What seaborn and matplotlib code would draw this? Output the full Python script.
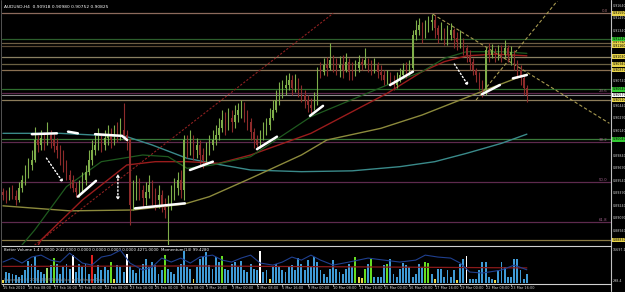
import numpy as np
import pandas as pd
import matplotlib
matplotlib.use("Agg")
import matplotlib.pyplot as plt
import seaborn as sns

sns.set_theme(style="dark")
plt.rcParams['font.family'] = ['DejaVu Sans']

# ---------------- data (AUDUSD H4) ----------------
first_open = 0.8941
close = [0.8937, 0.8933, 0.8941, 0.8936, 0.8931, 0.8945, 0.8955, 0.8965, 0.8973, 0.8979,
         0.9003, 0.8997, 0.9005, 0.9001, 0.9009, 0.9003, 0.8996, 0.8991, 0.8981, 0.8973,
         0.8961, 0.8955, 0.8945, 0.8941, 0.8943, 0.8955, 0.8965, 0.8979, 0.8991, 0.8997,
         0.9003, 0.8997, 0.9005, 0.9009, 0.9003, 0.9013, 0.9009, 0.9015, 0.9009, 0.9003,
         0.8925, 0.8937, 0.8949, 0.8943, 0.8933, 0.8941, 0.8949, 0.8937, 0.8931, 0.8937,
         0.8925, 0.8919, 0.8931, 0.8937, 0.8945, 0.8955, 0.8943, 0.9003, 0.8993, 0.9003,
         0.8991, 0.8997, 0.8985, 0.8979, 0.8991, 0.8997, 0.9003, 0.9009, 0.9017, 0.9027,
         0.9021, 0.9029, 0.9025, 0.9033, 0.9039, 0.9045, 0.9033, 0.9025, 0.9013, 0.9003,
         0.8997, 0.9005, 0.9015, 0.9021, 0.9029, 0.9039, 0.9051, 0.9061, 0.9065, 0.9069,
         0.9075, 0.9065, 0.9073, 0.9063, 0.9057, 0.9051, 0.9045, 0.9041, 0.9051, 0.9087,
         0.9085, 0.9093, 0.9089, 0.9099, 0.9097, 0.9089, 0.9093, 0.9087, 0.9097, 0.9085,
         0.9081, 0.9089, 0.9097, 0.9093, 0.9099, 0.9092, 0.9087, 0.9093, 0.9085, 0.9081,
         0.9075, 0.9077, 0.9073, 0.9069, 0.9075, 0.9081, 0.9087, 0.9085, 0.9089, 0.9129,
         0.9135, 0.9141, 0.9133, 0.9137, 0.9145, 0.9147, 0.9137, 0.9129, 0.9135, 0.9125,
         0.9129, 0.9135, 0.9125, 0.9121, 0.9123, 0.9113, 0.9105, 0.9097, 0.9087, 0.9081,
         0.9069, 0.9063, 0.9111, 0.9105, 0.9111, 0.9101, 0.9109, 0.9105, 0.9113, 0.9105,
         0.9109, 0.9097, 0.9087, 0.9077, 0.9065, 0.9057]
high = [0.8945, 0.8943, 0.8947, 0.8949, 0.8943, 0.8953, 0.8961, 0.8973, 0.8981, 0.8991,
        0.9019, 0.9009, 0.9015, 0.9013, 0.9025, 0.9015, 0.9010, 0.9005, 0.8997, 0.8991,
        0.8979, 0.8967, 0.8961, 0.8953, 0.8955, 0.8965, 0.8973, 0.8991, 0.9003, 0.9009,
        0.9017, 0.9009, 0.9015, 0.9021, 0.9017, 0.9021, 0.9025, 0.9029, 0.9047, 0.9015,
        0.9005, 0.8955, 0.8961, 0.8957, 0.8949, 0.8953, 0.8961, 0.8955, 0.8945, 0.8949,
        0.8943, 0.8933, 0.8937, 0.8949, 0.8957, 0.8965, 0.8967, 0.9009, 0.9009, 0.9015,
        0.9009, 0.9005, 0.9003, 0.8993, 0.9001, 0.9009, 0.9015, 0.9021, 0.9029, 0.9039,
        0.9037, 0.9041, 0.9039, 0.9045, 0.9047, 0.9051, 0.9049, 0.9039, 0.9029, 0.9017,
        0.9009, 0.9015, 0.9025, 0.9029, 0.9041, 0.9051, 0.9063, 0.9073, 0.9075, 0.9081,
        0.9083, 0.9081, 0.9082, 0.9077, 0.9069, 0.9063, 0.9057, 0.9053, 0.9061, 0.9091,
        0.9097, 0.9101, 0.9103, 0.9119, 0.9105, 0.9101, 0.9104, 0.9105, 0.9107, 0.9101,
        0.9097, 0.9099, 0.9105, 0.9101, 0.9113, 0.9101, 0.9099, 0.9101, 0.9097, 0.9093,
        0.9087, 0.9087, 0.9085, 0.9081, 0.9085, 0.9089, 0.9095, 0.9097, 0.9099, 0.9135,
        0.9147, 0.9149, 0.9145, 0.9147, 0.9152, 0.9154, 0.9153, 0.9141, 0.9145, 0.9137,
        0.9141, 0.9143, 0.9137, 0.9133, 0.9135, 0.9125, 0.9117, 0.9111, 0.9101, 0.9089,
        0.9085, 0.9075, 0.9115, 0.9119, 0.9118, 0.9113, 0.9117, 0.9117, 0.9123, 0.9117,
        0.9116, 0.9111, 0.9099, 0.9093, 0.9081, 0.9069]
low = [0.8931, 0.8927, 0.8931, 0.8932, 0.8925, 0.8929, 0.8941, 0.8949, 0.8957, 0.8967,
       0.8977, 0.8989, 0.8991, 0.8991, 0.8997, 0.8993, 0.8989, 0.8981, 0.8973, 0.8965,
       0.8955, 0.8945, 0.8941, 0.8935, 0.8935, 0.8941, 0.8949, 0.8961, 0.8973, 0.8985,
       0.8991, 0.8989, 0.8991, 0.8997, 0.8993, 0.8997, 0.9001, 0.9003, 0.9003, 0.8991,
       0.8901, 0.8919, 0.8931, 0.8931, 0.8921, 0.8925, 0.8933, 0.8925, 0.8919, 0.8921,
       0.8917, 0.8909, 0.8877, 0.8919, 0.8931, 0.8937, 0.8933, 0.8931, 0.8981, 0.8985,
       0.8979, 0.8981, 0.8973, 0.8969, 0.8977, 0.8985, 0.8991, 0.8997, 0.9003, 0.9013,
       0.9009, 0.9015, 0.9013, 0.9017, 0.9025, 0.9029, 0.9025, 0.9015, 0.9003, 0.8993,
       0.8991, 0.8993, 0.9003, 0.9009, 0.9015, 0.9027, 0.9037, 0.9045, 0.9053, 0.9057,
       0.9063, 0.9057, 0.9061, 0.9055, 0.9049, 0.9041, 0.9037, 0.9035, 0.9039, 0.9045,
       0.9077, 0.9081, 0.9080, 0.9087, 0.9085, 0.9081, 0.9079, 0.9077, 0.9085, 0.9075,
       0.9075, 0.9080, 0.9085, 0.9087, 0.9089, 0.9085, 0.9081, 0.9083, 0.9077, 0.9075,
       0.9069, 0.9070, 0.9068, 0.9063, 0.9065, 0.9073, 0.9077, 0.9077, 0.9081, 0.9087,
       0.9123, 0.9129, 0.9119, 0.9125, 0.9133, 0.9135, 0.9125, 0.9119, 0.9123, 0.9117,
       0.9117, 0.9123, 0.9113, 0.9111, 0.9113, 0.9105, 0.9097, 0.9087, 0.9081, 0.9073,
       0.9063, 0.9055, 0.9057, 0.9097, 0.9101, 0.9097, 0.9099, 0.9097, 0.9101, 0.9097,
       0.9093, 0.9087, 0.9077, 0.9069, 0.9057, 0.9049]

volume = [1240, 5120, 4650, 4340, 3880, 2790, 3570, 5890, 10230, 8990,
          12400, 5890, 5120, 4340, 7130, 8220, 11780, 8990, 4340, 7440,
          8990, 6670, 12870, 5120, 8990, 7440, 8990, 4340, 12870, 4340,
          8220, 5890, 7440, 5890, 9770, 2020, 8220, 7440, 5120, 13640,
          7750, 5890, 4650, 7130, 8990, 11320, 7440, 9770, 8220, 4340,
          5890, 12870, 6670, 5120, 4340, 7440, 8990, 14880, 7440, 6670,
          2020, 7440, 11320, 12090, 14420, 8220, 6670, 12090, 9770, 12400,
          6670, 5890, 8990, 9770, 7440, 10230, 5890, 5120, 8990, 6670,
          5890, 14880, 5120, 5890, 2020, 7440, 8990, 7750, 5890, 5120,
          7440, 8220, 5890, 11780, 8990, 6200, 10540, 7440, 12090, 9770,
          5890, 4340, 2790, 6670, 10540, 6670, 5120, 4340, 6670, 8990,
          7440, 12090, 2790, 2480, 6670, 8990, 11320, 2790, 2790, 2790,
          8220, 8990, 11320, 4340, 2790, 6670, 9460, 8220, 7440, 2790,
          4340, 8990, 7440, 9770, 9460, 4340, 2020, 6670, 6670, 2790,
          5890, 2790, 5890, 1550, 8990, 11320, 12400, 2020, 2020, 2020,
          5890, 9770, 9770, 2790, 2020, 1240, 5890, 9770, 7440, 2790,
          2790, 11320, 11320, 5890, 2020, 4271]
vol_green = [16, 34, 51, 69, 111, 114, 116, 121, 133, 134]
vol_lightgreen = [14]
vol_white = [22, 39, 81, 146]
vol_red = [28]
vol_yellow = [0, 35, 60, 84, 112, 113, 136, 143, 155]

vol_avg_bar = [0, 60, 120, 165]
vol_avg_val = [7700, 7900, 7400, 7000]

mom_bar = [0, 3, 6, 9, 12, 15, 18, 21, 25, 28, 31, 34, 37, 40, 44, 47, 50, 53, 56, 59,
           62, 66, 69, 72, 75, 78, 81, 85, 88, 91, 94, 97, 100, 104, 109, 115, 120, 125,
           130, 133, 137, 141, 144, 147, 151, 157, 161, 165]
mom_val = [100.27, 100.70, 100.16, 100.81, 101.02, 100.48, 100.27, 101.24, 100.16, 99.94,
           100.81, 101.02, 101.56, 100.16, 99.40, 99.73, 100.70, 100.27, 100.70, 100.16,
           100.81, 101.02, 100.48, 100.27, 100.70, 101.02, 100.16, 99.94, 100.27, 100.81,
           100.48, 101.02, 100.48, 99.94, 100.27, 100.70, 100.48, 100.27, 100.48, 101.02,
           100.81, 100.70, 100.16, 99.19, 99.08, 99.40, 99.94, 99.43]

# moving averages (bar index, price)
ma_teal_bar = [0, 18, 39, 47, 58, 66, 78, 94, 110, 125, 136, 146, 157, 165]
ma_teal_val = [0.9011, 0.9011, 0.9007, 0.8997, 0.8981, 0.8975, 0.8967, 0.8965, 0.8966,
               0.8971, 0.8977, 0.8987, 0.8999, 0.9010]
ma_olive_bar = [0, 21, 41, 57, 65, 78, 94, 102, 119, 132, 152, 165]
ma_olive_val = [0.8924, 0.8918, 0.8919, 0.8926, 0.8935, 0.8957, 0.8985, 0.9003, 0.9017,
                0.9033, 0.9063, 0.9082]
ma_red_bar = [8, 12, 25, 39, 48, 58, 68, 78, 97, 121, 132, 139, 146, 155, 165]
ma_red_val = [0.8855, 0.8883, 0.8931, 0.8973, 0.8977, 0.8977, 0.8975, 0.8985, 0.9011,
              0.9059, 0.9085, 0.9097, 0.9104, 0.9106, 0.9104]
ma_green_bar = [4, 6, 10, 20, 31, 44, 52, 58, 66, 78, 97, 121, 132, 139, 146, 157, 165]
ma_green_val = [0.8860, 0.8877, 0.8895, 0.8947, 0.8977, 0.8985, 0.8983, 0.8969, 0.8973,
                0.8983, 0.9031, 0.9069, 0.9085, 0.9101, 0.9109, 0.9109, 0.9107]

# horizontal levels
hl_price = [0.9155, 0.9124, 0.9119, 0.9116, 0.9103, 0.9094, 0.9087, 0.9064, 0.9051,
            0.9004, 0.8883]
hl_color = ['#8c6a5c', '#2c5e2c', '#6e5e44', '#5c4a34', '#8a8062', '#6a6042', '#8a7052',
            '#2e6e2e', '#8c7c5a', '#3a7a3a', '#8a7a44']
hl_box = ['#e8d44a', '#33cc33', '#e8d44a', '#e8d44a', '#e8d44a', '#e8d44a', '#e8d44a',
          '#33cc33', '#e8d44a', '#33cc33', '#e8d44a']
fib_top, fib_bottom = 0.9155, 0.8750
fib_ratio = [0.236, 0.382, 0.5, 0.618]
fib_label = ['23.6', '38.2', '50.0', '61.8']

# trendlines (bar, price)
trend_red = [(8, 0.8871), (104, 0.9155)]
trend_olive_down = [(135.4, 0.9154), (191, 0.9023)]
trend_olive_up = [(149, 0.9051), (180, 0.9195)]

# hand drawn white marks (bar, price)
strokes = [
    [(9.1, 0.9010), (17.0, 0.9011)],
    [(20.5, 0.9013), (23.6, 0.9011)],
    [(29.0, 0.9010), (37.5, 0.9008), (39.1, 0.9003)],
    [(23.6, 0.8935), (29.3, 0.8954)],
    [(41.6, 0.8921), (57.3, 0.8927)],
    [(58.9, 0.8967), (66.1, 0.8977)],
    [(80.0, 0.8992), (86.3, 0.9007)],
    [(96.7, 0.9032), (100.8, 0.9044)],
    [(121.9, 0.9069), (129.1, 0.9085)],
    [(150.9, 0.9058), (156.5, 0.9069)],
    [(160.6, 0.9077), (165.0, 0.9081)],
]
dotted_arrows = [
    [(13.2, 0.8984), (19.5, 0.8949)],
    [(141.7, 0.9097), (147.1, 0.9065)],
]
double_arrow = [(36.2, 0.8966), (36.2, 0.8927)]

date_bar = list(range(0, 161, 8))
date_text = ["15 Feb 2010", "16 Feb 08:00", "17 Feb 16:00", "19 Feb 00:00", "22 Feb 08:00",
             "23 Feb 16:00", "25 Feb 00:00", "26 Feb 08:00", "1 Mar 16:00", "3 Mar 00:00",
             "4 Mar 08:00", "5 Mar 16:00", "9 Mar 00:00", "10 Mar 08:00", "11 Mar 16:00",
             "15 Mar 00:00", "16 Mar 08:00", "17 Mar 16:00", "19 Mar 00:00", "22 Mar 08:00",
             "23 Mar 16:00"]
price_ticks = [0.91640 - 0.0015 * k for k in range(20)]

# ---------------- drawing ----------------
W, H = 625, 292
YLO, YHI = 0.8877, 0.91698
fig = plt.figure(figsize=(W / 100, H / 100), dpi=100, facecolor='black')
ax = fig.add_axes([2 / W, 1 - 245 / H, 609 / W, 244 / H])
axv = fig.add_axes([2 / W, 1 - 283 / H, 609 / W, 36 / H])
axm = axv.twinx()
for a in (ax, axv):
    a.set_facecolor('black')
axm.patch.set_visible(False)

XMIN, XMAX = -0.3, 191.5
n = len(close)
bars = np.arange(n)
opens = [first_open] + close[:-1]
df = pd.DataFrame({'bar': bars, 'open': opens, 'high': high, 'low': low, 'close': close,
                   'volume': volume})
up = df['close'] >= df['open']
c_up, c_dn = '#7fae4a', '#8e2b2b'
colors = np.where(up, c_up, c_dn)

# horizontal levels
for p, c in zip(hl_price, hl_color):
    ax.axhline(p, color=c, lw=0.9, zorder=1)
for r, lab in zip(fib_ratio, fib_label):
    lvl = fib_top - r * (fib_top - fib_bottom)
    ax.axhline(lvl, color='#5e2a4e', lw=0.9, zorder=1)
    ax.text(190.5, lvl + 0.00004, lab, color='#a0608a', fontsize=2.8, ha='right',
            va='bottom')
ax.text(190.5, fib_top + 0.00004, '0.0', color='#a06a70', fontsize=2.8, ha='right',
        va='bottom')
ax.axhline(close[-1], color='#8a8a8a', lw=0.8, zorder=1)

# trendlines
(x1, y1), (x2, y2) = trend_red
ax.plot([x1, x2], [y1, y2], color='#8e2020', lw=0.8, ls=(0, (2, 1.5)), zorder=2)
(x1, y1), (x2, y2) = trend_olive_down
ax.plot([x1, x2], [y1, y2], color='#a89a50', lw=0.8, ls=(0, (3, 2)), zorder=2)
(x1, y1), (x2, y2) = trend_olive_up
ax.plot([x1, x2], [y1, y2], color='#a89a50', lw=0.8, ls=(0, (3, 2)), zorder=2)

# moving averages
sns.lineplot(x=ma_teal_bar, y=ma_teal_val, ax=ax, color='#3a8a8a', lw=1.0, zorder=3)
sns.lineplot(x=ma_olive_bar, y=ma_olive_val, ax=ax, color='#8c8a3c', lw=1.0, zorder=3)
sns.lineplot(x=ma_red_bar, y=ma_red_val, ax=ax, color='#9a1c1c', lw=1.0, zorder=3)
sns.lineplot(x=ma_green_bar, y=ma_green_val, ax=ax, color='#1f5a1f', lw=0.9, zorder=3)

# candles
ax.vlines(df['bar'], df['low'], df['high'], colors=colors, lw=0.8, zorder=4)
body_lo = np.minimum(df['open'], df['close'])
body_h = np.maximum(np.abs(df['close'] - df['open']), 0.00005)
ax.bar(df['bar'], body_h, bottom=body_lo, width=0.35, color=colors, lw=0, zorder=4)

# hand drawn marks
for s in strokes:
    xs, ys = zip(*s)
    ax.plot(xs, ys, color='white', lw=1.8, solid_capstyle='round', zorder=6)
for (xa, ya), (xb, yb) in dotted_arrows:
    ax.annotate('', xy=(xb, yb), xytext=(xa, ya),
                arrowprops=dict(arrowstyle='-|>', color='white', lw=1.0, ls=':',
                                mutation_scale=4), zorder=6)
(xa, ya), (xb, yb) = double_arrow
ax.annotate('', xy=(xb, yb), xytext=(xa, ya),
            arrowprops=dict(arrowstyle='<|-|>', color='white', lw=1.0, ls=':',
                            mutation_scale=4), zorder=6)

ax.set_xlim(XMIN, XMAX)
ax.set_ylim(YLO, YHI)
ax.set_xticks([]); ax.set_yticks([])
ax.set_xlabel(''); ax.set_ylabel('')
for s in ax.spines.values():
    s.set_visible(False)

ax.text(0.004, 0.985, 'AUDUSD,H4  0.90918 0.90980 0.90752 0.90825', transform=ax.transAxes,
        color='white', fontsize=3.2, ha='left', va='top')

# right price axis
def ypx(p):
    return (1 - 245 / H) + (p - YLO) / (YHI - YLO) * 244 / H

box_prices = hl_price + [close[-1]]
for p in price_ticks:
    if min(abs(ypx(p) - ypx(b)) for b in box_prices) * H < 4.5:
        continue
    fig.text(612.5 / W, ypx(p), f'{p:.5f}', color='#d0d0d0', fontsize=2.35, ha='left',
             va='center')
for p, bc in zip(hl_price, hl_box):
    fig.text(612.5 / W, ypx(p), f'{p:.5f}', color='black', fontsize=2.35, ha='left',
             va='center', bbox=dict(boxstyle='square,pad=0.12', fc=bc, ec='none'))
fig.text(612.5 / W, ypx(close[-1]), f'{close[-1]:.5f}', color='black', fontsize=2.35,
         ha='left', va='center',
         bbox=dict(boxstyle='square,pad=0.12', fc='white', ec='none'))

# volume panel
vcol = ['#3f9bd6'] * n
for i in vol_green: vcol[i] = '#66dd22'
for i in vol_lightgreen: vcol[i] = '#99dd66'
for i in vol_white: vcol[i] = '#ffffff'
for i in vol_red: vcol[i] = '#e02020'
for i in vol_yellow: vcol[i] = '#e8d84a'
axv.bar(df['bar'], df['volume'], width=0.6, color=vcol, lw=0, zorder=2)
sns.lineplot(x=vol_avg_bar, y=vol_avg_val, ax=axv, color='#8a1a1a', lw=0.9, zorder=3)
sns.lineplot(x=mom_bar, y=mom_val, ax=axm, color='#1f3f8f', lw=0.8, zorder=3)
axv.set_xlim(XMIN, XMAX); axm.set_xlim(XMIN, XMAX)
axv.set_ylim(0, 16700); axm.set_ylim(98.0, 101.9)
for a in (axv, axm):
    a.set_xticks([]); a.set_yticks([])
    a.set_xlabel(''); a.set_ylabel('')
    for s in a.spines.values():
        s.set_visible(False)
axv.text(0.004, 0.97, 'Better Volume 1.4 0.0000 2(42.0000 0.0000 0.0000 0.0000 0.0000 '
         '4271.0000  Momentum(14) 99.4280', transform=axv.transAxes, color='white',
         fontsize=2.8, ha='left', va='top', zorder=5)
axv.text(0.004, 0.03, 'Copyright \u00a9 2001-2009 MetaQuotes Software Corp.',
         transform=axv.transAxes, color='#909090', fontsize=2.8, ha='left', va='bottom',
         zorder=5)
fig.text(612.5 / W, 1 - 250 / H, '16697.1', color='#d0d0d0', fontsize=2.35, ha='left',
         va='center')
fig.text(612.5 / W, 1 - 281 / H, '298.4', color='#d0d0d0', fontsize=2.35, ha='left',
         va='center')

# frame lines
fig.add_artist(plt.Line2D([611 / W, 611 / W], [1 - 291 / H, 1], color='#c0c0c0', lw=0.8))
fig.add_artist(plt.Line2D([2 / W, 611 / W], [1 - 246 / H] * 2, color='#d0d0d0', lw=0.8))
fig.add_artist(plt.Line2D([2 / W, 611 / W], [1 - 284 / H] * 2, color='#d0d0d0', lw=0.8))
fig.add_artist(plt.Line2D([1.5 / W, 1.5 / W], [1 - 284 / H, 1], color='#606060', lw=0.6))

# dates
for b, t in zip(date_bar, date_text):
    xf = 2 / W + (b - XMIN) / (XMAX - XMIN) * 609 / W
    fig.text(xf, 1 - 288 / H, t, color='#d0d0d0', fontsize=2.5, ha='left', va='center')
    fig.add_artist(plt.Line2D([xf, xf], [1 - 284 / H, 1 - 286 / H], color='#d0d0d0',
                              lw=0.5))

fig.savefig('out.png', dpi=100, facecolor='black')
